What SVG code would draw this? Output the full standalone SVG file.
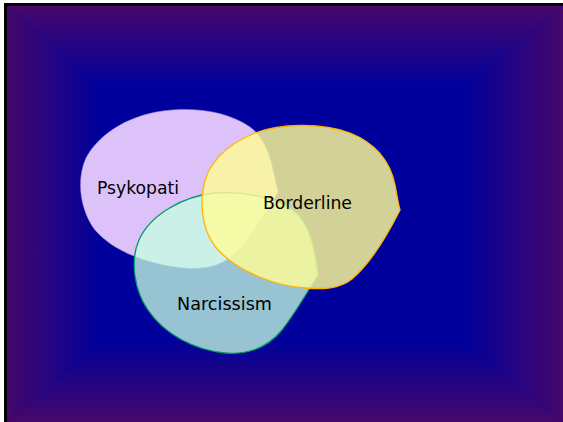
<svg xmlns="http://www.w3.org/2000/svg" width="563" height="422" viewBox="0 0 563 422">
<style>
.lbl{font-family:"DejaVu Sans","Liberation Sans",sans-serif;font-size:18px;fill:#000}
</style>
<defs>
<linearGradient id="gL" gradientUnits="userSpaceOnUse" x1="7" y1="0" x2="100" y2="0"><stop offset="0" stop-color="#46086A"/><stop offset="1" stop-color="#00009C"/></linearGradient>
<linearGradient id="gR" gradientUnits="userSpaceOnUse" x1="563" y1="0" x2="463" y2="0"><stop offset="0" stop-color="#46086A"/><stop offset="1" stop-color="#00009C"/></linearGradient>
<linearGradient id="gT" gradientUnits="userSpaceOnUse" x1="0" y1="6" x2="0" y2="86"><stop offset="0" stop-color="#46086A"/><stop offset="1" stop-color="#00009C"/></linearGradient>
<linearGradient id="gB" gradientUnits="userSpaceOnUse" x1="0" y1="422" x2="0" y2="340"><stop offset="0" stop-color="#46086A"/><stop offset="1" stop-color="#00009C"/></linearGradient>
</defs>
<rect x="0" y="0" width="563" height="422" fill="#fff"/>
<rect x="4" y="3" width="559" height="419" fill="#000"/>
<g id="background">
<rect x="7" y="6" width="556" height="416" fill="#00009C"/>
<polygon points="7,6 100,86 100,340 7,422" fill="url(#gL)"/>
<polygon points="563,6 463,86 463,340 563,422" fill="url(#gR)"/>
<polygon points="7,6 563,6 463,86 100,86" fill="url(#gT)"/>
<polygon points="7,422 100,340 463,340 563,422" fill="url(#gB)"/>
</g>
<g id="psykopati">
<path d="M278,192 C272,165 268,140 250,127 C228,112 200,108 172,110 C132,113 100,132 86,158 C76,180 80,210 95,230 C112,250 145,264 185,268 C212,270 228,262 240,248 C255,230 268,208 278,192 Z" fill="#DDC2FA" stroke="#A888D8" stroke-opacity="0.5" stroke-width="1"/>
<text class="lbl" x="97" y="194" textLength="82" lengthAdjust="spacingAndGlyphs">Psykopati</text>
</g>
<g id="narcissism">
<path d="M318,275 C315,250 310,225 295,212 C275,197 245,191 215,193 C183,196 150,215 139,240 C130,260 134,290 148,310 C165,335 195,350 225,353 C250,355 268,347 282,330 C296,312 306,294 318,275 Z" fill="#C4FEE2" fill-opacity="0.77" stroke="#009966" stroke-width="1.3"/>
<text class="lbl" x="177" y="310" textLength="95" lengthAdjust="spacingAndGlyphs">Narcissism</text>
</g>
<g id="borderline">
<path d="M400,210 C390,230 372,262 352,279 C338,290 320,289 305,288 C275,286 240,272 220,252 C203,235 200,210 203,190 C206,165 225,145 255,133 C280,124 320,122 350,133 C375,143 390,160 395,185 C397,195 398,203 400,210 Z" fill="#FDFB98" fill-opacity="0.83" stroke="#FFB300" stroke-width="1.3"/>
<text class="lbl" x="263" y="209" textLength="89" lengthAdjust="spacingAndGlyphs">Borderline</text>
</g>
<g id="connectors"></g>
</svg>
